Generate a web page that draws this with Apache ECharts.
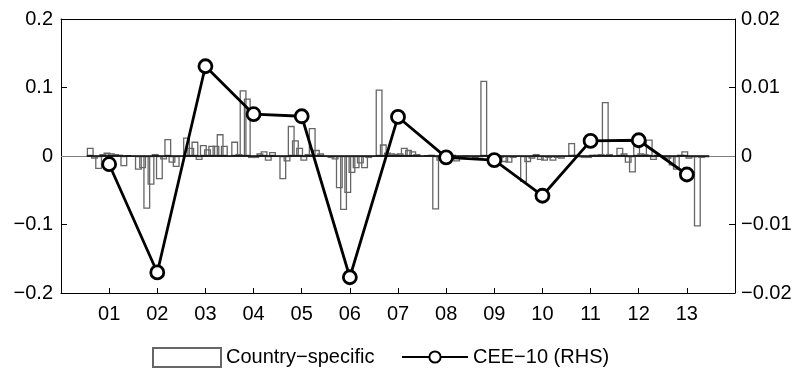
<!DOCTYPE html>
<html>
<head>
<meta charset="utf-8">
<script src="https://cdn.jsdelivr.net/npm/echarts@6/dist/echarts.min.js"></script>
<style>
  html, body { margin: 0; padding: 0; background: #fff; }
  #chart { width: 798px; height: 371px; }
</style>
</head>
<body>
<div id="chart"></div>
<script>
// periods 01..13
const categories = ['01', '02', '03', '04', '05', '06', '07', '08', '09', '10', '11', '12', '13']

// country-specific components, one array per period, 10 countries each (LHS)
const g01 = [0.012, -0.004, -0.019, 0.003, 0.005, 0.004, 0.003, 0.002, -0.015, 0.001]
const g02 = [-0.020, -0.018, -0.077, -0.042, 0.003, -0.034, -0.005, 0.025, -0.010, -0.016]
const g03 = [0.027, 0.012, 0.021, -0.006, 0.016, 0.010, 0.015, 0.015, 0.032, 0.015]
const g04 = [0.021, 0.003, 0.096, 0.084, -0.003, -0.003, 0.004, 0.007, -0.007, 0.006]
const g05 = [-0.034, -0.008, 0.044, 0.023, 0.012, -0.007, 0.003, 0.041, 0.009, 0.004]
const g06 = [-0.003, -0.005, -0.047, -0.079, -0.054, -0.025, -0.018, -0.011, -0.018, -0.003]
const g07 = [0.097, 0.017, 0.005, 0.004, 0.003, 0.004, 0.012, 0.009, 0.007, 0.003]
const g08 = [0.001, 0.002, -0.078, -0.007, -0.004, -0.002, 0.002, -0.008, -0.003, -0.001]
const g09 = [-0.003, -0.002, 0.110, 0.001, -0.003, -0.002, -0.003, -0.009, -0.010, -0.003]
const g10 = [-0.038, -0.009, -0.004, 0.003, -0.006, -0.007, -0.003, -0.007, -0.003, -0.004]
const g11 = [0.019, 0.002, -0.002, -0.003, -0.003, 0.002, 0.002, 0.003, 0.079, 0.003]
const g12 = [0.012, 0.004, -0.010, -0.024, 0.015, 0.004, 0.003, 0.024, -0.006, 0.002]
const g13 = [-0.004, -0.014, -0.020, 0.002, 0.007, -0.004, -0.002, -0.103, -0.003, -0.002]
const groups = [g01, g02, g03, g04, g05, g06, g07, g08, g09, g10, g11, g12, g13]

// CEE-10 common component (RHS)
const cee10 = [-0.0012, -0.0170, 0.0131, 0.0061, 0.0058, -0.0177, 0.0057, -0.0002, -0.0006, -0.0058, 0.0022, 0.0023, -0.0027]

const leftTickLabels = ['\u22120.2', '\u22120.1', '0', '0.1', '0.2']
const rightTickLabels = ['\u22120.02', '\u22120.01', '0', '0.01', '0.02']

const font = '"Liberation Sans", Arial, sans-serif'
const fs = 20
const legendFs = 20

const chart = echarts.init(document.getElementById('chart'))

const barSeries = []
for (let c = 0; c < 10; c++) {
  barSeries.push({
    name: 'Country\u2212specific',
    type: 'bar',
    xAxisIndex: 2,
    yAxisIndex: 2,
    barWidth: 7,
    barGap: '-40%',
    data: groups.map(g => g[c]),
    itemStyle: { color: 'rgba(255,255,255,0)', borderColor: '#666666', borderWidth: 1.3 },
    emphasis: { disabled: true },
    silent: true,
    z: 2
  })
}

const options = {
  animation: false,
  textStyle: { fontFamily: font },
  grid: [
    { left: 61, right: 63, top: 19, bottom: 78 },
    { left: 61 + 674 / 28, right: 63 + 674 / 28, top: 19, bottom: 78 }
  ],
  legend: [
    {
      data: [{ name: 'Country\u2212specific', icon: 'rect' }],
      left: 147, top: 342,
      itemWidth: 68, itemHeight: 19,
      textStyle: { fontFamily: font, fontSize: legendFs, color: '#000' }
    },
    {
      data: ['CEE\u221210 (RHS)'],
      left: 396, top: 342,
      itemWidth: 66, itemHeight: 14,
      textStyle: { fontFamily: font, fontSize: legendFs, color: '#000' }
    }
  ],
  xAxis: [
    {
      type: 'value', gridIndex: 0, min: 0, max: 14, interval: 1,
      position: 'bottom',
      axisLine: { onZero: false, lineStyle: { color: '#000', width: 1 } },
      axisTick: { inside: true, length: 5, lineStyle: { color: '#000' } },
      axisLabel: {
        color: '#000', fontSize: fs, fontFamily: font, margin: 11,
        formatter: v => (v >= 1 && v <= 13 ? categories[v - 1] : '')
      },
      splitLine: { show: false }
    },
    {
      type: 'value', gridIndex: 0, min: 0, max: 14, interval: 1,
      position: 'top',
      axisLine: { onZero: false, lineStyle: { color: '#000', width: 1 } },
      axisTick: { show: false },
      axisLabel: { show: false },
      splitLine: { show: false }
    },
    {
      type: 'category', gridIndex: 1, data: categories,
      show: false
    }
  ],
  yAxis: [
    {
      type: 'value', gridIndex: 0, min: -0.2, max: 0.2, interval: 0.1,
      position: 'left',
      axisLine: { show: true, onZero: false, lineStyle: { color: '#000', width: 1 } },
      axisTick: { show: true, inside: true, length: 6, lineStyle: { color: '#000' } },
      axisLabel: {
        color: '#000', fontSize: fs, fontFamily: font, margin: 8,
        formatter: v => leftTickLabels[Math.round((v + 0.2) / 0.1)]
      },
      splitLine: { show: false }
    },
    {
      type: 'value', gridIndex: 0, min: -0.02, max: 0.02, interval: 0.01,
      position: 'right',
      axisLine: { show: true, onZero: false, lineStyle: { color: '#000', width: 1 } },
      axisTick: { show: true, inside: true, length: 6, lineStyle: { color: '#000' } },
      axisLabel: {
        color: '#000', fontSize: fs, fontFamily: font, margin: 6,
        formatter: v => rightTickLabels[Math.round((v + 0.02) / 0.01)]
      },
      splitLine: { show: false }
    },
    {
      type: 'value', gridIndex: 1, min: -0.2, max: 0.2, show: false
    }
  ],
  series: [
    ...barSeries,
    {
      // zero baseline: grey across the axes, black under the bars
      type: 'line',
      xAxisIndex: 0, yAxisIndex: 0,
      data: [],
      silent: true,
      markLine: {
        silent: true, symbol: 'none', label: { show: false },
        data: [
          { yAxis: 0, lineStyle: { color: '#808080', width: 1, type: 'solid' } },
          [
            { coord: [1 - 0.465, 0], lineStyle: { color: '#000', width: 1.6, type: 'solid' } },
            { coord: [13 + 0.465, 0] }
          ]
        ]
      },
      z: 3
    },
    {
      name: 'CEE\u221210 (RHS)',
      type: 'line',
      xAxisIndex: 0,
      yAxisIndex: 1,
      data: cee10.map((v, i) => [i + 1, v]),
      symbol: 'circle',
      symbolSize: 13,
      lineStyle: { color: '#000', width: 2.8 },
      itemStyle: { color: '#fff', borderColor: '#000', borderWidth: 2.8 },
      emphasis: { disabled: true },
      z: 5
    }
  ]
}

chart.setOption(options)
window.addEventListener('resize', () => chart.resize())
</script>
</body>
</html>
